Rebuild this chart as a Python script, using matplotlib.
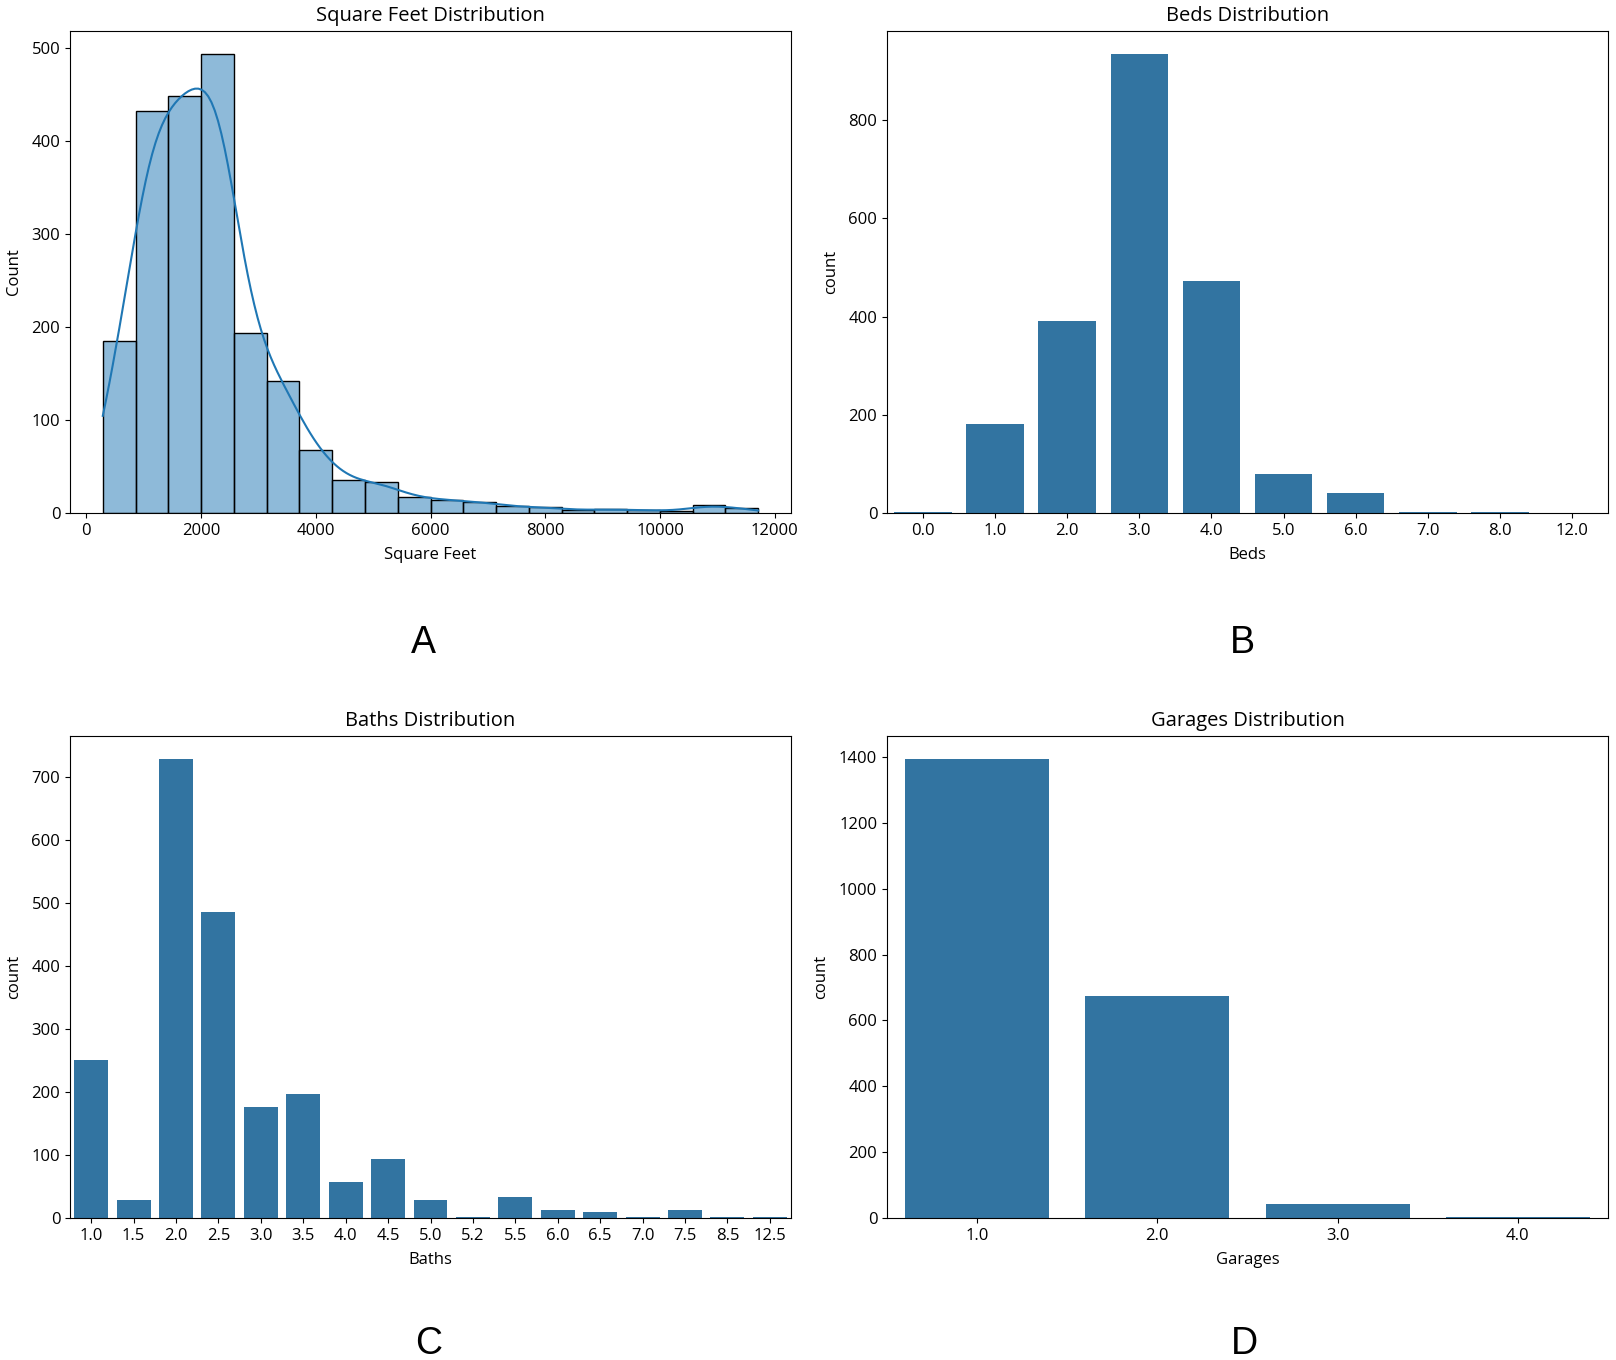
import numpy as np
import pandas as pd
import matplotlib
matplotlib.use('Agg')
import matplotlib.pyplot as plt
import seaborn as sns

# Square feet histogram (20 bins)
sqft_edges = np.linspace(287, 11712, 21)
sqft_counts = [185, 433, 449, 494, 194, 142, 68, 35, 33, 17,
               14, 12, 7, 6, 3, 4, 3, 2, 9, 5]

beds_labels = ['0.0', '1.0', '2.0', '3.0', '4.0', '5.0', '6.0', '7.0', '8.0', '12.0']
beds_counts = [3, 181, 391, 935, 473, 80, 40, 3, 3, 1]

baths_labels = ['1.0', '1.5', '2.0', '2.5', '3.0', '3.5', '4.0', '4.5', '5.0',
                '5.2', '5.5', '6.0', '6.5', '7.0', '7.5', '8.5', '12.5']
baths_counts = [250, 28, 728, 486, 176, 197, 57, 93, 28,
                2, 34, 13, 10, 2, 13, 2, 2]

garage_labels = ['1.0', '2.0', '3.0', '4.0']
garage_counts = [1394, 675, 44, 3]

plt.rcParams['font.family'] = ['Open Sans', 'DejaVu Sans']
plt.rcParams['font.size'] = 12

fig = plt.figure(figsize=(16.16, 13.6), dpi=100)
W, H = 1616, 1360


def box(l, t, r, b):
    return [l / W, 1 - b / H, (r - l) / W, (b - t) / H]


ax1 = fig.add_axes(box(70, 31, 791, 513))
ax2 = fig.add_axes(box(887, 31, 1608, 513))
ax3 = fig.add_axes(box(70, 736, 791, 1218))
ax4 = fig.add_axes(box(887, 736, 1608, 1218))

# A - histogram with kde
centers = (sqft_edges[:-1] + sqft_edges[1:]) / 2
sq = pd.DataFrame({'Square Feet': centers, 'n': sqft_counts})
sns.histplot(data=sq, x='Square Feet', weights='n', bins=list(sqft_edges), kde=True,
             kde_kws={'bw_adjust': 0.33, 'cut': 3,
                      'clip': (sqft_edges[0], sqft_edges[-1])},
             edgecolor='black', line_kws={'linewidth': 1.5}, ax=ax1)
ax1.set_title('Square Feet Distribution', fontsize=14.5, pad=7)
ax1.set_ylabel('Count', labelpad=7)
ax1.set_xlabel('Square Feet', labelpad=6)

# B, C, D - count bars
for ax, labels, counts, name in [(ax2, beds_labels, beds_counts, 'Beds'),
                                 (ax3, baths_labels, baths_counts, 'Baths'),
                                 (ax4, garage_labels, garage_counts, 'Garages')]:
    df = pd.DataFrame({name: labels, 'count': counts})
    sns.barplot(data=df, x=name, y='count', color='#1f77b4', saturation=0.75,
                width=0.8, ax=ax)
    ax.set_title(name + ' Distribution', fontsize=14.5, pad=7)
    ax.set_ylabel('count', labelpad=7)
    ax.set_xlabel(name, labelpad=6)

for ax in (ax1, ax2, ax3, ax4):
    ax.tick_params(labelsize=12)

for s, x, y in [('A', 423, 643), ('B', 1242, 643), ('C', 429, 1344), ('D', 1244, 1344)]:
    fig.text(x / W, 1 - y / H, s, fontsize=27, family='Liberation Sans',
             ha='center', va='center')

fig.savefig('out.png', dpi=100)
